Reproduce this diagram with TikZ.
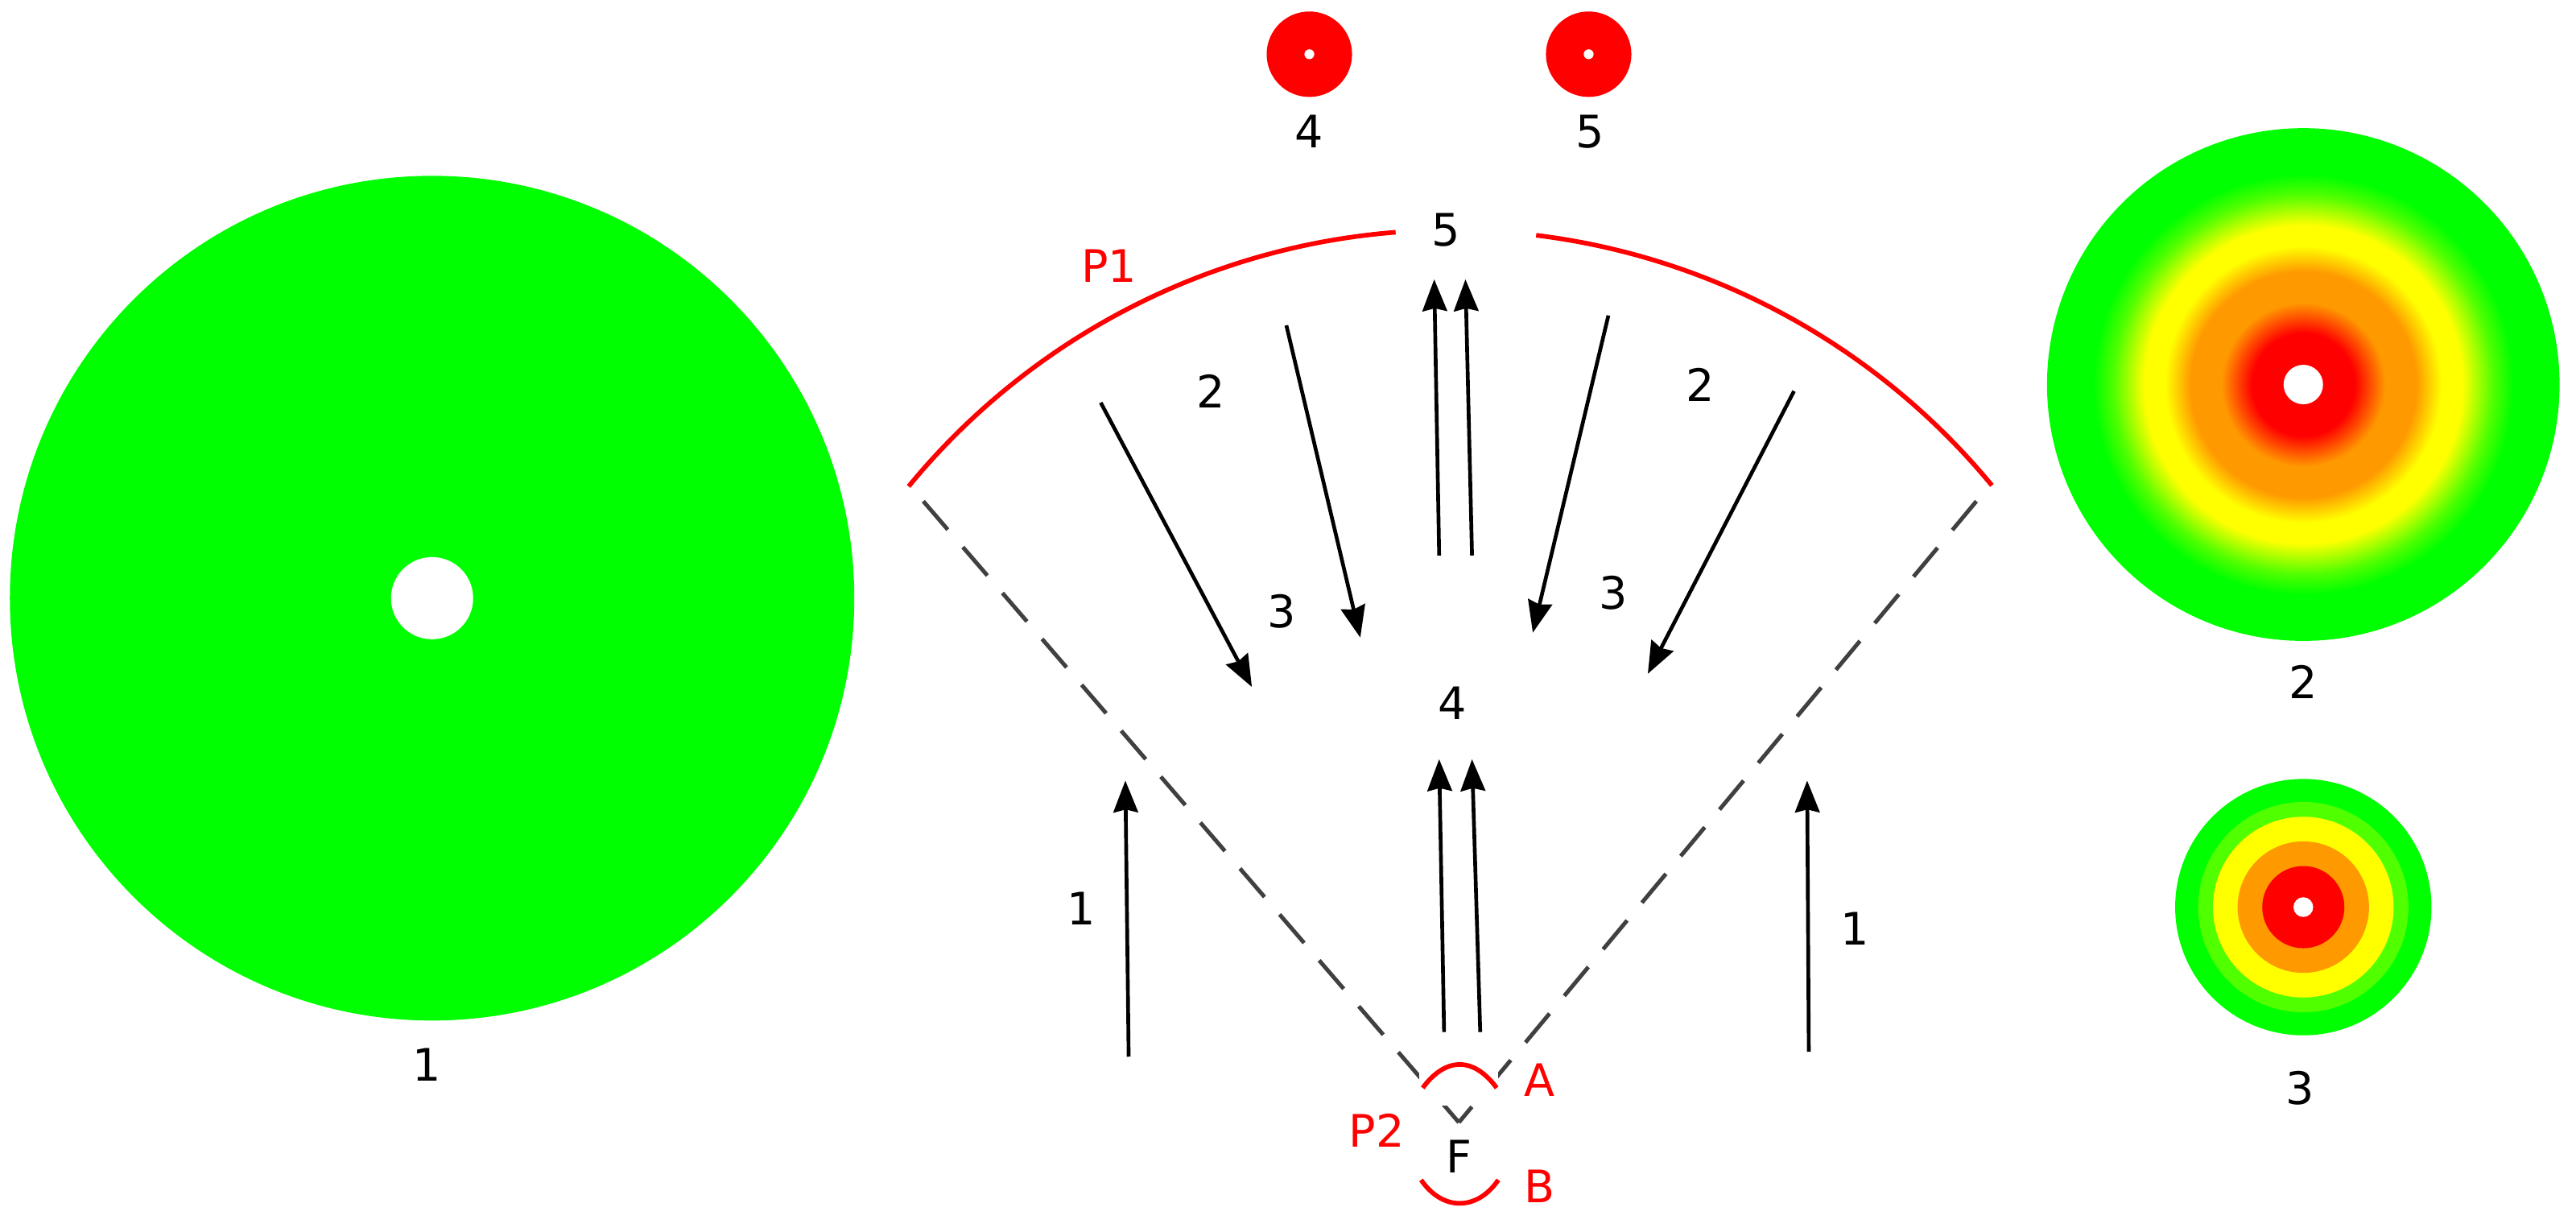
\documentclass[tikz,border=0pt]{standalone}
\usepackage{fontspec}
\setmainfont{DejaVu Sans}
\usetikzlibrary{arrows.meta,calc}
\definecolor{gg}{RGB}{0,255,0}
\definecolor{lg}{RGB}{80,255,0}
\definecolor{yy}{RGB}{255,255,0}
\definecolor{oo}{RGB}{255,153,0}
\definecolor{rr}{RGB}{255,0,0}
\pgfdeclareradialshading{heat}{\pgfpoint{0bp}{0bp}}{%
 color(0bp)=(rr); color(5bp)=(rr); color(8bp)=(oo); color(11bp)=(oo);
 color(13.5bp)=(yy); color(15.5bp)=(yy); color(18.5bp)=(lg); color(20.5bp)=(gg);
 color(25bp)=(gg); color(50bp)=(gg)}
\begin{document}
\begin{tikzpicture}[x=0.02cm,y=0.02cm,
  lbl/.style={font=\fontsize{15.5}{18}\selectfont, inner sep=1pt},
  rlbl/.style={lbl, text=rr},
  arr/.style={line width=1.3pt, -{Stealth[length=11pt,width=8.5pt,inset=1pt]}},
  dsh/.style={line width=1.4pt, draw=black!75, dash pattern=on 13pt off 8pt},
  red line/.style={line width=1.6pt, draw=rr}]
\useasboundingbox (0,0) rectangle (1568,747);
% circle 1
\fill[gg] (263,383) circle (257);
\fill[white] (263,383) circle (25);
\node[lbl] (l1) at (260,99) {1};
% small red circles
\fill[rr] (797,714) circle (26); \fill[white] (797,714) circle (3);
\fill[rr] (967,714) circle (26); \fill[white] (967,714) circle (3);
\node[lbl] (t4) at (797,667) {4};
\node[lbl] (t5) at (968,667) {5};
% circle 2
\shade[shading=heat] (1402,513) circle (156);
\fill[white] (1402,513) circle (12);
\node[lbl] (l2) at (1402,332) {2};
% circle 3
\fill[gg] (1402,195) circle (78);
\fill[lg] (1402,195) circle (64);
\fill[yy] (1402,195) circle (55);
\fill[oo] (1402,195) circle (40);
\fill[rr] (1402,195) circle (25);
\fill[white] (1402,195) circle (6);
\node[lbl] (l3) at (1400,85) {3};
% P1 arc
\coordinate (c) at (883,180);
\draw[red line] ($(c)+(140.6:427)$) arc (140.6:94.5:427);
\draw[red line] ($(c)+(83:427)$) arc (83:39.5:427);
\node[lbl] (p5) at (880,607) {5};
\node[rlbl] (P1) at (675,585) {P1};
% dashed
\coordinate (F0) at (888,64);
\coordinate (DL) at (562,442);
\coordinate (DR) at (1203,442);
\draw[dsh] (DL) -- (F0);
\draw[dsh] (DR) -- (F0);
\fill[white] (864,74) rectangle (912,100);
% A and B arcs
\coordinate (A1) at (866,85); \coordinate (A2) at (911,85);
\draw[red line] (A1) .. controls (880,104) and (897,104) .. (A2);
\coordinate (B1) at (865,29); \coordinate (B2) at (912,29);
\draw[red line] (B1) .. controls (878,10) and (899,10) .. (B2);
\node[rlbl] (A) at (937,90) {A};
\node[rlbl] (B) at (937,25) {B};
\node[rlbl] (P2) at (838,59) {P2};
\node[lbl] (F) at (888,43) {F};
% arrows
\coordinate (s1) at (687,104); \coordinate (e1) at (685,272);
\coordinate (s2) at (1101,107); \coordinate (e2) at (1100,272);
\coordinate (s3) at (879,119); \coordinate (e3) at (876,285);
\coordinate (s4) at (901,119); \coordinate (e4) at (896,285);
\coordinate (s5) at (876,409); \coordinate (e5) at (873,577);
\coordinate (s6) at (896,409); \coordinate (e6) at (892,577);
\coordinate (s7) at (670,502); \coordinate (e7) at (762,329);
\coordinate (s8) at (783,549); \coordinate (e8) at (828,359);
\coordinate (s9) at (979,555); \coordinate (e9) at (933,362);
\coordinate (s10) at (1092,509); \coordinate (e10) at (1003,337);
\foreach \i in {1,...,10} \draw[arr] (s\i) -- (e\i);
\node[lbl] (n2a) at (737,509) {2};
\node[lbl] (n2b) at (1035,513) {2};
\node[lbl] (n3a) at (780,375) {3};
\node[lbl] (n3b) at (982,386) {3};
\node[lbl] (n4) at (884,319) {4};
\node[lbl] (n1a) at (658,194) {1};
\node[lbl] (n1b) at (1129,182) {1};
\end{tikzpicture}
\end{document}
